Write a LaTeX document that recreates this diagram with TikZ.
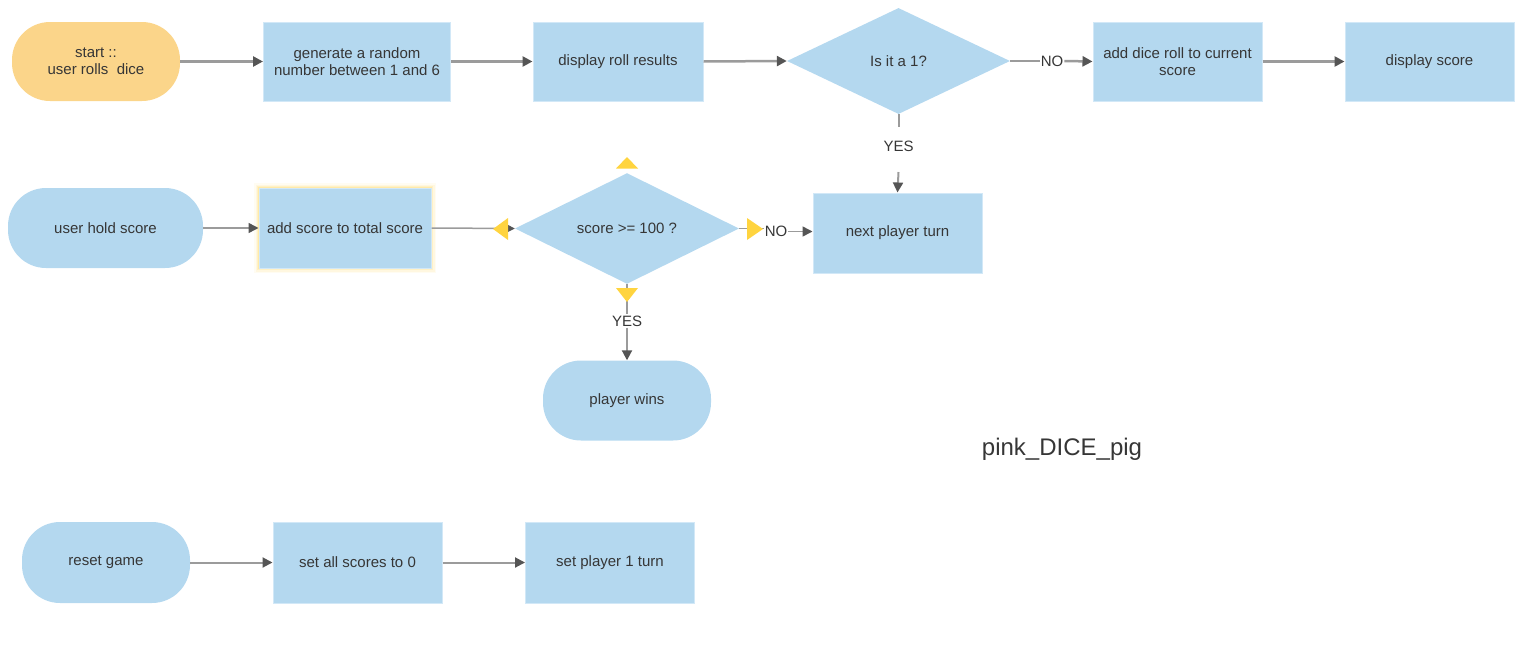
\documentclass[tikz,border=0pt]{standalone}
\usepackage{fontspec}
\setmainfont{Liberation Sans}
\usetikzlibrary{arrows.meta,shapes.geometric}
\definecolor{boxblue}{HTML}{B4D8EF}
\definecolor{boxedge}{HTML}{D2E8F7}
\definecolor{startorange}{HTML}{FBD58A}
\definecolor{linegray}{HTML}{9B9B9B}
\definecolor{tipgray}{HTML}{555555}
\definecolor{handle}{HTML}{FFD43F}
\definecolor{txt}{HTML}{363636}
\definecolor{glow}{HTML}{FFE596}
\begin{document}
\begin{tikzpicture}[x=1pt,y=-1pt,
  every node/.style={font=\fontsize{15}{17}\selectfont, text=txt},
  procbox/.style={rectangle, fill=boxblue, draw=boxedge, line width=1pt,
    minimum width=170pt, minimum height=80pt, inner sep=2pt, align=center},
  pill/.style={rectangle, rounded corners=38pt, fill=boxblue,
    minimum width=168pt, minimum height=80pt, inner sep=2pt, align=center},
  decision/.style={diamond, fill=boxblue, inner sep=0pt,
    minimum width=223pt, minimum height=106pt},
  lbl/.style={inner sep=1pt, fill=white},
  flow/.style={draw=linegray, line width=#1},
  flow/.default=2.5pt,
  tip/.style={-{Triangle[length=10pt,width=10pt,color=tipgray]}}
]
\useasboundingbox (0,0) rectangle (1536,648);

% ---------- top row ----------
\node[pill, fill=startorange, minimum width=168pt, minimum height=79pt] (start) at (96,61.5) {start ::\\user rolls\ \ dice};
\node[procbox, minimum width=187pt, minimum height=79pt] (gen) at (357,61.5) {generate a random\\number between 1 and 6};
\node[procbox, minimum height=79pt] (roll) at (618,61.5) {display roll results};
\node[decision] (d1) at (898.5,61) {Is it a 1?};
\node[procbox, minimum width=169pt, minimum height=79pt] (add) at (1177.5,61.5) {add dice roll to current\\score};
\node[procbox, minimum width=169pt, minimum height=79pt] (disp) at (1429.5,61.5) {display score};

\draw[flow, tip] (start.east) -- (gen.west);
\draw[flow, tip] (gen.east) -- (roll.west);
\draw[flow, tip] (roll.east) -- (d1.west);
\node[lbl] (no1) at (1052,61) {NO};
\draw[flow] (d1.east) -- (no1.west);
\draw[flow, tip] (no1.east) -- (add.west);
\draw[flow, tip] (add.east) -- (disp.west);

% ---------- middle row ----------
\node[procbox, minimum width=169pt, minimum height=80pt] (next) at (897.5,233) {next player turn};
\coordinate (y1a) at (898.5,127);
\node[inner sep=1pt] (yes1) at (898.5,146) {YES};
\coordinate (y1b) at (898.5,172);
\draw[flow=2pt] (d1.south) -- (y1a);
\draw[flow=2pt, tip] (y1b) -- (next.north);

\node[pill, minimum width=195pt] (hold) at (105.5,228) {user hold score};
% glow around selected box
\foreach \w/\o in {10/0.12, 7/0.2, 4/0.35, 2/0.6}{
  \draw[glow, line width=\w pt, opacity=\o] (259,188) rectangle (431,268);
}
\node[procbox, minimum width=172pt, minimum height=80pt] (tot) at (345,228) {add score to total score};
\node[decision, minimum width=224pt, minimum height=107pt] (d2) at (627,228.5) {score >= 100 ?};
\node[pill] (wins) at (627,400.5) {player wins};

\draw[flow=1.5pt, tip] (hold.east) -- (tot.west);
\draw[flow=1.5pt, tip] (tot.east) -- (d2.west);
\node[lbl] (no2) at (776,231.5) {NO};
\draw[flow=1.5pt] (d2.east) -- (d2.east -| no2.west);
\draw[flow=1.5pt, tip] (no2.east) -- (no2.east -| next.west);
\node[lbl] (yes2) at (627,321) {YES};
\draw[flow=2pt] (d2.south) -- (yes2.north);
\draw[flow=2pt, tip] (yes2.south) -- (wins.north);

% connection handles of the selected decision
\fill[handle] (627,157) -- (638,168.5) -- (616,168.5) -- cycle;
\fill[handle] (493,229) -- (508,218) -- (508,240) -- cycle;
\fill[handle] (763,229) -- (747,218) -- (747,240) -- cycle;
\fill[handle] (627,302) -- (616,288) -- (638,288) -- cycle;

% ---------- title ----------
\node[font=\fontsize{24}{28}\selectfont, text=txt] (title) at (1062,449) {pink\_DICE\_pig};

% ---------- bottom row ----------
\node[pill, minimum height=81pt] (reset) at (106,562.5) {reset game};
\node[procbox, minimum width=169pt, minimum height=81pt] (setall) at (357.5,562.5) {set all scores to 0};
\node[procbox, minimum width=169pt, minimum height=81pt] (setp) at (610,562.5) {set player 1 turn};
\draw[flow=2pt, tip] (reset.east) -- (setall.west);
\draw[flow=2pt, tip] (setall.east) -- (setp.west);
\end{tikzpicture}
\end{document}
